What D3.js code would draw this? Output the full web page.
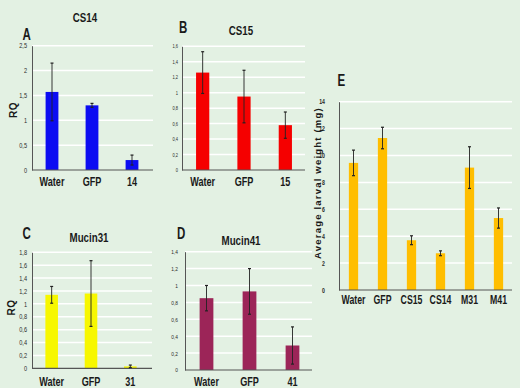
<!DOCTYPE html>
<html>
<head>
<meta charset="utf-8">
<script src="https://cdn.jsdelivr.net/npm/d3@7"></script>
<style>
  body { margin: 0; background: #e3f1e3; }
  svg { display: block; }
  .narrow { font-family: "Liberation Sans", Arial, sans-serif; }
</style>
</head>
<body>
<script>
// panel A - CS14
var cs14Labels = ['Water', 'GFP', '14'];
var cs14Values = [1.57, 1.30, 0.20];
var cs14Errors = [0.58, 0.04, 0.10];
var cs14Ticks = [0, 0.5, 1, 1.5, 2, 2.5];

// panel B - CS15
var cs15Labels = ['Water', 'GFP', '15'];
var cs15Values = [1.26, 0.95, 0.58];
var cs15Errors = [0.27, 0.34, 0.17];
var cs15Ticks = [0, 0.2, 0.4, 0.6, 0.8, 1, 1.2, 1.4, 1.6];

// panel C - Mucin31
var mucin31Labels = ['Water', 'GFP', '31'];
var mucin31Values = [1.14, 1.16, 0.03];
var mucin31Errors = [0.13, 0.51, 0.02];
var mucin31Ticks = [0, 0.2, 0.4, 0.6, 0.8, 1, 1.2, 1.4, 1.6, 1.8];

// panel D - Mucin41
var mucin41Labels = ['Water', 'GFP', '41'];
var mucin41Values = [0.85, 0.93, 0.29];
var mucin41Errors = [0.15, 0.27, 0.22];
var mucin41Ticks = [0, 0.2, 0.4, 0.6, 0.8, 1, 1.2, 1.4];

// panel E - larval weight
var weightLabels = ['Water', 'GFP', 'CS15', 'CS14', 'M31', 'M41'];
var weightValues = [9.45, 11.3, 3.7, 2.73, 9.1, 5.35];
var weightErrors = [0.95, 0.8, 0.33, 0.18, 1.55, 0.75];
var weightTicks = [0, 2, 4, 6, 8, 10, 12, 14];

;(function() {

    var svg = d3.select('body').append('svg')
        .attr('width', 520)
        .attr('height', 388);

    svg.append('rect')
        .attr('width', 520)
        .attr('height', 388)
        .style('fill', '#e3f1e3');

    var comma = function(d) { return String(d).replace('.', ','); };

    /**
     * Put a squeezed (condensed look) text at a point.
     */
    function narrowText(parent, txt, px, py, size, squeeze, anchor) {
        return parent.append('text')
            .attr('class', 'narrow')
            .attr('transform', 'translate(' + px + ',' + py + ') scale(' + squeeze + ',1)')
            .attr('text-anchor', anchor || 'middle')
            .style('font-size', size + 'px')
            .style('font-weight', 'bold')
            .style('fill', '#1a1a1a')
            .text(txt);
    }

    /**
     * Draw one bar panel with gridlines, error bars and labels.
     * @param {object} p  The panel settings
     */
    function drawPanel(p) {
        var x = d3.scaleBand()
            .domain(p.labels)
            .range([p.x0, p.x1])
            .paddingInner(0.68)
            .paddingOuter(0.34);

        var y = d3.scaleLinear()
            .domain([0, p.ticks[p.ticks.length - 1]])
            .range([p.y0, p.yTop]);

        var g = svg.append('g');

        // white gridlines
        g.selectAll('line.grid')
            .data(p.ticks.slice(1))
            .enter().append('line')
            .attr('x1', p.x0)
            .attr('x2', p.gridEnd)
            .attr('y1', function(d) { return y(d); })
            .attr('y2', function(d) { return y(d); })
            .style('stroke', '#ffffff')
            .style('stroke-width', 1.5);

        // y axis
        var yAxis = g.append('g')
            .attr('transform', 'translate(' + p.x0 + ',0)')
            .call(d3.axisLeft(y).tickValues(p.ticks).tickSize(0).tickPadding(p.tickPad).tickFormat(comma));
        yAxis.select('.domain').style('stroke', '#555').style('stroke-width', 1);
        yAxis.selectAll('text')
            .attr('class', 'narrow')
            .attr('x', -p.tickPad / p.tickSqueeze)
            .attr('transform', 'scale(' + p.tickSqueeze + ',1)')
            .style('font-size', p.tickSize + 'px')
            .style('font-weight', p.tickBold ? 'bold' : 'normal')
            .style('fill', '#2a2a2a');

        // bars
        g.selectAll('rect.bar')
            .data(p.values)
            .enter().append('rect')
            .attr('x', function(d, i) { return x(p.labels[i]); })
            .attr('y', function(d) { return y(d); })
            .attr('width', x.bandwidth())
            .attr('height', function(d) { return y(0) - y(d); })
            .style('fill', p.color);

        // baseline
        g.append('line')
            .attr('x1', p.x0)
            .attr('x2', p.gridEnd)
            .attr('y1', y(0))
            .attr('y2', y(0))
            .style('stroke', '#555')
            .style('stroke-width', 1.2);

        // error bars
        var err = g.selectAll('g.err')
            .data(p.values)
            .enter().append('g')
            .attr('transform', function(d, i) {
                return 'translate(' + (x(p.labels[i]) + x.bandwidth() / 2) + ',0)';
            });
        err.append('line')
            .attr('y1', function(d, i) { return y(d + p.errors[i]); })
            .attr('y2', function(d, i) { return y(Math.max(0, d - p.errors[i])); })
            .style('stroke', '#222')
            .style('stroke-width', 0.9);
        err.append('line')
            .attr('x1', -1.5).attr('x2', 1.5)
            .attr('y1', function(d, i) { return y(d + p.errors[i]); })
            .attr('y2', function(d, i) { return y(d + p.errors[i]); })
            .style('stroke', '#222')
            .style('stroke-width', 1.2);
        err.append('line')
            .attr('x1', -1.5).attr('x2', 1.5)
            .attr('y1', function(d, i) { return y(Math.max(0, d - p.errors[i])); })
            .attr('y2', function(d, i) { return y(Math.max(0, d - p.errors[i])); })
            .style('stroke', '#222')
            .style('stroke-width', 1.2);

        // category labels
        p.labels.forEach(function(d) {
            narrowText(g, d, x(d) + x.bandwidth() / 2, p.labelY, p.labelSize, 0.7);
        });

        // title
        if (p.title) {
            narrowText(g, p.title.text, p.title.x, p.title.y, 12.5, 0.78);
        }

        // panel letter
        narrowText(g, p.letter.text, p.letter.x, p.letter.y, 16, 0.72, 'start');

        // y axis title
        if (p.yTitle) {
            g.append('text')
                .attr('transform', 'translate(' + p.yTitle.x + ',' + p.yTitle.y + ') rotate(-90)')
                .attr('text-anchor', 'middle')
                .style('font-family', '"Liberation Sans", Arial, sans-serif')
                .style('font-size', p.yTitle.size + 'px')
                .style('font-weight', 'bold')
                .style('letter-spacing', p.yTitle.spacing + 'px')
                .style('fill', '#1a1a1a')
                .text(p.yTitle.text);
        }
    }

    drawPanel({
        labels: cs14Labels, values: cs14Values, errors: cs14Errors, ticks: cs14Ticks,
        color: '#0c0cf2', x0: 32, x1: 152, gridEnd: 153, y0: 170, yTop: 45.7,
        tickSize: 7, tickSqueeze: 0.8, tickPad: 5, labelY: 185.5, labelSize: 13,
        title: { text: 'CS14', x: 85, y: 21.5 },
        letter: { text: 'A', x: 22.5, y: 39.5 },
        yTitle: { text: 'RQ', x: 16.5, y: 110, size: 10, spacing: 0.5 }
    });

    drawPanel({
        labels: cs15Labels, values: cs15Values, errors: cs15Errors, ticks: cs15Ticks,
        color: '#f50000', x0: 182, x1: 306, gridEnd: 305, y0: 170, yTop: 46.3,
        tickSize: 5, tickSqueeze: 0.8, tickPad: 4, labelY: 185.5, labelSize: 13,
        title: { text: 'CS15', x: 241, y: 35 },
        letter: { text: 'B', x: 179, y: 33 }
    });

    drawPanel({
        labels: mucin31Labels, values: mucin31Values, errors: mucin31Errors, ticks: mucin31Ticks,
        color: '#f7f700', x0: 32, x1: 150, gridEnd: 152, y0: 368.3, yTop: 252.3,
        tickSize: 7, tickSqueeze: 0.8, tickPad: 5, labelY: 385.5, labelSize: 13,
        title: { text: 'Mucin31', x: 89, y: 241.5 },
        letter: { text: 'C', x: 22.5, y: 238.5 },
        yTitle: { text: 'RQ', x: 15, y: 307.5, size: 10, spacing: 0.5 }
    });

    drawPanel({
        labels: mucin41Labels, values: mucin41Values, errors: mucin41Errors, ticks: mucin41Ticks,
        color: '#9c2558', x0: 185, x1: 314, gridEnd: 312, y0: 370, yTop: 251.7,
        tickSize: 6, tickSqueeze: 0.8, tickPad: 7, labelY: 385.5, labelSize: 13,
        title: { text: 'Mucin41', x: 241, y: 245 },
        letter: { text: 'D', x: 177, y: 239 }
    });

    drawPanel({
        labels: weightLabels, values: weightValues, errors: weightErrors, ticks: weightTicks,
        color: '#ffbe00', x0: 339, x1: 513, gridEnd: 512, y0: 290, yTop: 101.7,
        tickSize: 6.5, tickSqueeze: 0.8, tickBold: true, tickPad: 14, labelY: 304, labelSize: 12.5,
        letter: { text: 'E', x: 337.5, y: 85.5 },
        yTitle: { text: 'Average larval weight (mg)', x: 320.5, y: 183, size: 9.5, spacing: 1.2 }
    });

})();
</script>
</body>
</html>
